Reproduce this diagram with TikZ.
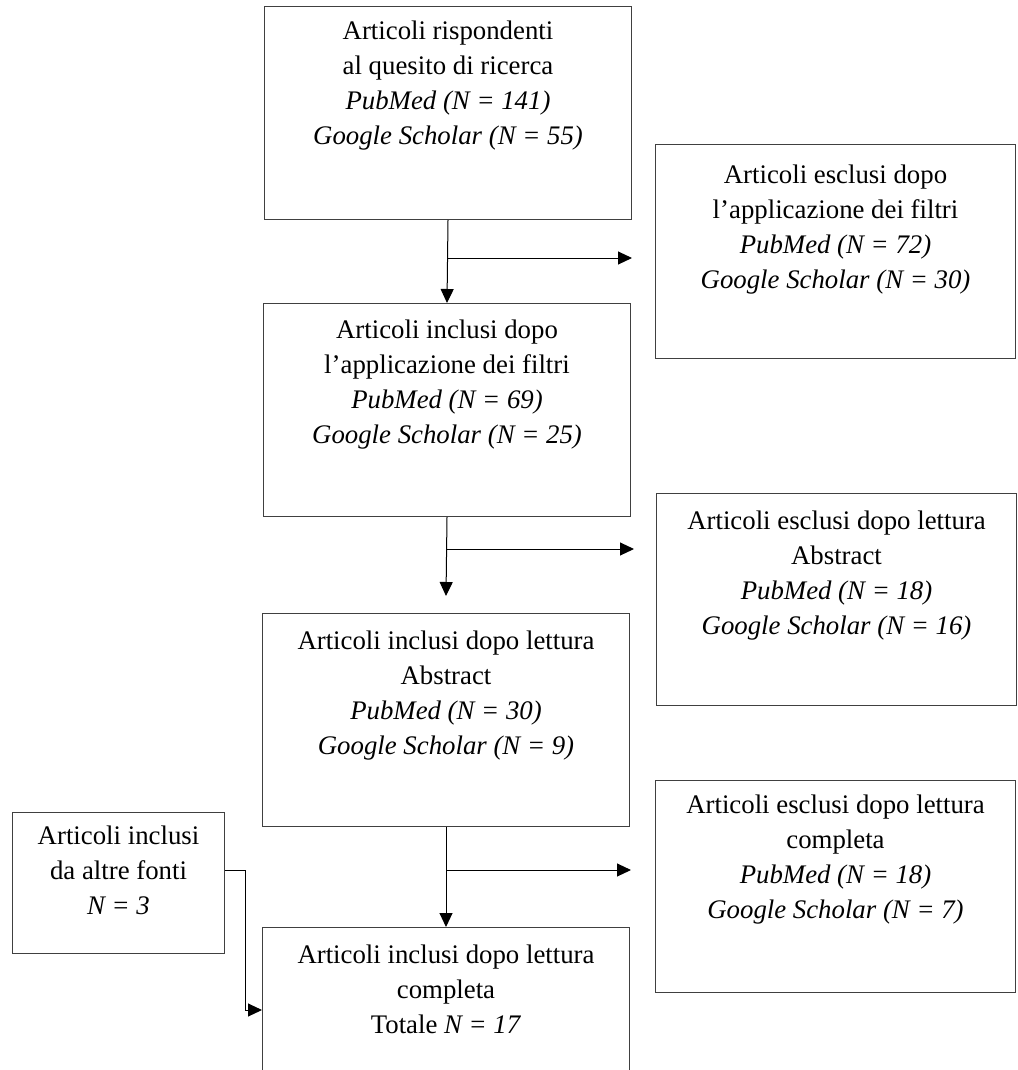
\documentclass[tikz,border=0pt]{standalone}
\usepackage{fontspec}
\setmainfont{Liberation Serif}
\usepackage{tikz}
\usetikzlibrary{arrows.meta}

\begin{document}
\begin{tikzpicture}[x=0.5pt,y=-0.5pt,line width=0.5pt,
  box/.style={draw=black!75,anchor=north west,inner sep=0pt,minimum width=183.5pt,minimum height=106.5pt},
  txt/.style={anchor=north,align=center,inner sep=0pt,font=\fontsize{13.4}{17.6}\selectfont},
  arr/.style={-{Triangle[length=7pt,width=6.5pt]}}]

  \useasboundingbox (0,0) rectangle (1017,1070);
  \clip (0,0) rectangle (1017,1070);

  % central column
  \node[box] at (264,6) (ric){};
  \node[box] at (263,303) (fil){};
  \node[box] at (262,613) (abs){};
  \node[box] at (262,927) (com){};

  % excluded, right column
  \node[box,minimum width=180pt,minimum height=107pt] at (655,144) (exfil){};
  \node[box,minimum width=180pt,minimum height=106pt] at (656,493) (exabs){};
  \node[box,minimum width=180pt,minimum height=106pt] at (655,780) (excom){};

  % other sources
  \node[box,minimum width=106pt,minimum height=70.5pt] at (12,812) (altre){};

  \node[txt] at ([yshift=-7pt]ric.north) (tric){Articoli rispondenti\\al quesito di ricerca\\\textit{PubMed (N = 141)}\\\textit{Google Scholar (N = 55)}};
  \node[txt] at ([yshift=-8pt]fil.north) (tfil){Articoli inclusi dopo\\l'applicazione dei filtri\\\textit{PubMed (N = 69)}\\\textit{Google Scholar (N = 25)}};
  \node[txt] at ([yshift=-8.5pt]abs.north) (tabs){Articoli inclusi dopo lettura\\Abstract\\\textit{PubMed (N = 30)}\\\textit{Google Scholar (N = 9)}};
  \node[txt] at ([yshift=-8.5pt]com.north) (tcom){Articoli inclusi dopo lettura\\completa\\Totale \textit{N = 17}};
  \node[txt] at ([yshift=-10pt]exfil.north) (texfil){Articoli esclusi dopo\\l'applicazione dei filtri\\\textit{PubMed (N = 72)}\\\textit{Google Scholar (N = 30)}};
  \node[txt] at ([yshift=-8.5pt]exabs.north) (texabs){Articoli esclusi dopo lettura\\Abstract\\\textit{PubMed (N = 18)}\\\textit{Google Scholar (N = 16)}};
  \node[txt] at ([yshift=-7pt]excom.north) (texcom){Articoli esclusi dopo lettura\\completa\\\textit{PubMed (N = 18)}\\\textit{Google Scholar (N = 7)}};
  \node[txt] at ([yshift=-6.5pt]altre.north) (taltre){Articoli inclusi\\da altre fonti\\\textit{N = 3}};

  % branching points on the main line
  \coordinate (j1) at (ric.south |- 0,258);
  \coordinate (j2) at (fil.south |- 0,549);
  \coordinate (j3) at (abs.south |- 0,870);
  \coordinate (j4) at (245,1010);

  \draw [arr] (ric.south) -- (fil.north);
  \draw [arr] (j1) -- ([xshift=-11.5pt]exfil.west |- j1);
  \draw [arr] (fil.south) -- ([yshift=8.5pt]abs.north);
  \draw [arr] (j2) -- ([xshift=-11pt]exabs.west |- j2);
  \draw [arr] (abs.south) -- (com.north);
  \draw [arr] (j3) -- ([xshift=-12pt]excom.west |- j3);
  \draw [arr] (altre.east |- j3) -| (j4) -- (com.west |- j4);

\end{tikzpicture}
\end{document}
